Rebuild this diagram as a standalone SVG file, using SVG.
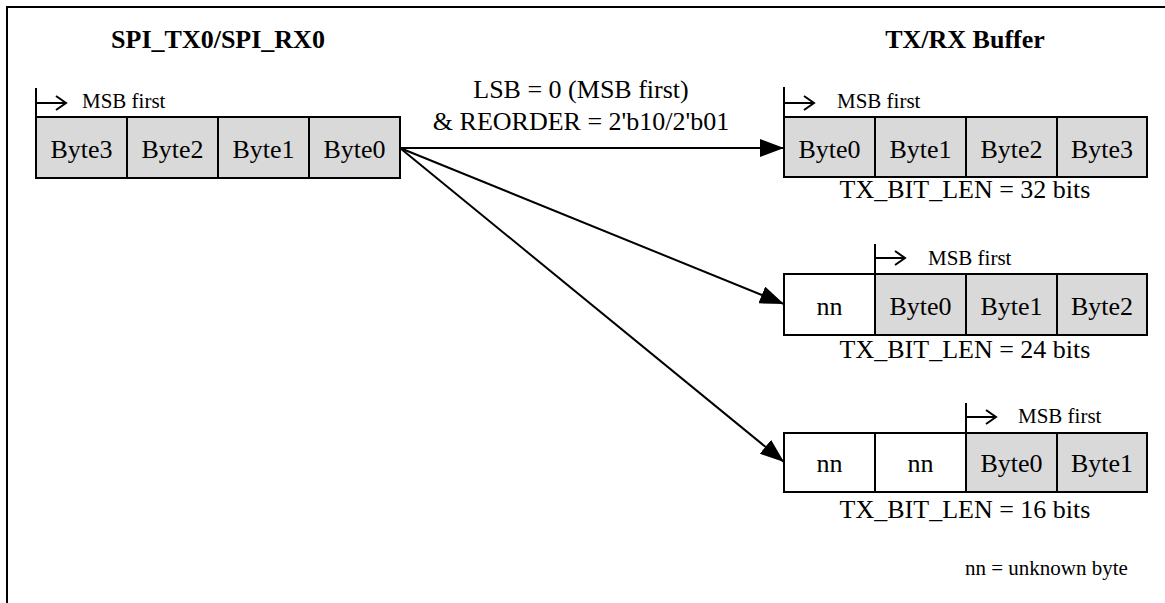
<svg xmlns="http://www.w3.org/2000/svg" width="1165" height="603" viewBox="0 0 1165 603">
<style>
text{font-family:"Liberation Serif","Times New Roman",serif;fill:#000}
.title{font-size:26px;font-weight:bold;text-anchor:middle}
.cell{font-size:26px;text-anchor:middle}
.len{font-size:26px;text-anchor:middle}
.lbl{font-size:26px;text-anchor:middle}
.msb{font-size:21px}
.note{font-size:21px}
.g{fill:#d9d9d9;stroke:#000;stroke-width:2}
.w{fill:#fff;stroke:#000;stroke-width:2}
.mk{fill:none;stroke:#000;stroke-width:2}
.conn{stroke:#000;stroke-width:2;fill:none}
</style>
<defs>
<marker id="ah" viewBox="0 0 24 18" refX="24" refY="9" markerWidth="24" markerHeight="18" markerUnits="userSpaceOnUse" orient="auto">
<path d="M0,0 L24,9 L0,18 z" fill="#000"/>
</marker>
</defs>
<rect width="1165" height="603" fill="#fff"/>
<path d="M7,603 L7,7 L1165,7" fill="none" stroke="#000" stroke-width="2"/>

<g id="src">
<text class="title" x="218" y="48">SPI_TX0/SPI_RX0</text>
<path class="mk" d="M36,88 L36,117 M36,103 L66,103 M56,96 L66,103 L56,110"/>
<text class="msb" x="82" y="108">MSB first</text>
<rect class="g" x="36" y="117" width="91" height="61"/>
<rect class="g" x="127" y="117" width="91" height="61"/>
<rect class="g" x="218" y="117" width="91" height="61"/>
<rect class="g" x="309" y="117" width="91" height="61"/>
<text class="cell" x="81.5" y="158">Byte3</text>
<text class="cell" x="172.5" y="158">Byte2</text>
<text class="cell" x="263.5" y="158">Byte1</text>
<text class="cell" x="354.5" y="158">Byte0</text>
</g>

<g id="buf32">
<text class="title" x="965" y="48">TX/RX Buffer</text>
<path class="mk" d="M784,87 L784,117 M784,103 L814,103 M804,96 L814,103 L804,110"/>
<text class="msb" x="837" y="108">MSB first</text>
<rect class="g" x="784" y="117" width="91" height="60"/>
<rect class="g" x="875" y="117" width="91" height="60"/>
<rect class="g" x="966" y="117" width="91" height="60"/>
<rect class="g" x="1057" y="117" width="90" height="60"/>
<text class="cell" x="829.5" y="158">Byte0</text>
<text class="cell" x="920.5" y="158">Byte1</text>
<text class="cell" x="1011.5" y="158">Byte2</text>
<text class="cell" x="1102" y="158">Byte3</text>
<text class="len" x="965" y="198">TX_BIT_LEN = 32 bits</text>
</g>

<g id="buf24">
<path class="mk" d="M875,244 L875,274 M875,258 L905,258 M895,251 L905,258 L895,265"/>
<text class="msb" x="928" y="265">MSB first</text>
<rect class="w" x="784" y="274" width="91" height="61"/>
<rect class="g" x="875" y="274" width="91" height="61"/>
<rect class="g" x="966" y="274" width="91" height="61"/>
<rect class="g" x="1057" y="274" width="90" height="61"/>
<text class="cell" x="829.5" y="315">nn</text>
<text class="cell" x="920.5" y="315">Byte0</text>
<text class="cell" x="1011.5" y="315">Byte1</text>
<text class="cell" x="1102" y="315">Byte2</text>
<text class="len" x="965" y="358">TX_BIT_LEN = 24 bits</text>
</g>

<g id="buf16">
<path class="mk" d="M966,403 L966,433 M966,417 L996,417 M986,410 L996,417 L986,424"/>
<text class="msb" x="1018" y="423">MSB first</text>
<rect class="w" x="784" y="433" width="91" height="59"/>
<rect class="w" x="875" y="433" width="91" height="59"/>
<rect class="g" x="966" y="433" width="91" height="59"/>
<rect class="g" x="1057" y="433" width="90" height="59"/>
<text class="cell" x="829.5" y="472">nn</text>
<text class="cell" x="920.5" y="472">nn</text>
<text class="cell" x="1011.5" y="472">Byte0</text>
<text class="cell" x="1102" y="472">Byte1</text>
<text class="len" x="965" y="518">TX_BIT_LEN = 16 bits</text>
</g>

<g id="legend">
<text class="note" x="965" y="575">nn = unknown byte</text>
</g>

<g id="connectors">
<line class="conn" x1="400" y1="148" x2="784" y2="148" marker-end="url(#ah)"/>
<line class="conn" x1="400" y1="148" x2="784" y2="304" marker-end="url(#ah)"/>
<line class="conn" x1="400" y1="148" x2="784" y2="462" marker-end="url(#ah)"/>
<text class="lbl" x="581" y="98">LSB = 0 (MSB first)</text>
<text class="lbl" x="581" y="130">&amp; REORDER = 2'b10/2'b01</text>
</g>
</svg>
